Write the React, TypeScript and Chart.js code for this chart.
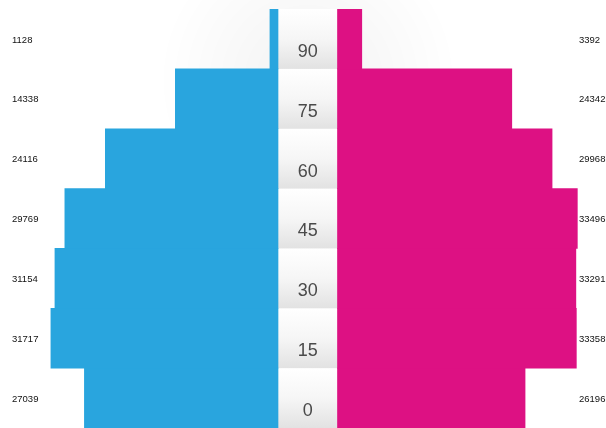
import React, { useEffect, useRef } from "react";
import { Chart, registerables } from "chart.js";

Chart.register(...registerables);

const ages = ["0", "15", "30", "45", "60", "75", "90"];
const male = [27039, 31717, 31154, 29769, 24116, 14338, 1128];
const female = [26196, 33358, 33291, 33496, 29968, 24342, 3392];

const W = 606;
const H = 428;
const PX_PER_UNIT = 0.00716;
const LEFT_BASE = 278;
const RIGHT_BASE = 337.5;

const centerColumn = {
  id: "centerColumn",
  beforeDatasetsDraw(chart: any) {
    const { ctx, chartArea, scales } = chart;
    const y = scales.y;
    const h = chartArea.height / ages.length;
    ctx.save();
    // soft glow near top
    const rg = ctx.createRadialGradient(308, 80, 0, 308, 80, 150);
    rg.addColorStop(0, "rgba(0,0,0,0.05)");
    rg.addColorStop(1, "rgba(0,0,0,0)");
    ctx.fillStyle = rg;
    ctx.fillRect(150, 0, 320, 230);
    ages.forEach((a, i) => {
      const cy = y.getPixelForValue(i);
      const top = cy - h / 2;
      const g = ctx.createLinearGradient(0, top, 0, top + h);
      g.addColorStop(0, "#ffffff");
      g.addColorStop(0.5, "#f6f6f6");
      g.addColorStop(1, "#e2e2e2");
      ctx.fillStyle = g;
      ctx.fillRect(LEFT_BASE, top, RIGHT_BASE - LEFT_BASE, h);
      ctx.fillStyle = "#4a4a4a";
      ctx.font = '18px "Liberation Sans", Arial, sans-serif';
      ctx.textAlign = "center";
      ctx.textBaseline = "middle";
      ctx.fillText(a, (LEFT_BASE + RIGHT_BASE) / 2, cy + 13);
    });
    ctx.restore();
  },
  afterDatasetsDraw(chart: any) {
    const { ctx, scales } = chart;
    const y = scales.y;
    ctx.save();
    ctx.fillStyle = "#111";
    ctx.font = '9.5px "Liberation Sans", Arial, sans-serif';
    ctx.textBaseline = "middle";
    ages.forEach((_, i) => {
      const cy = y.getPixelForValue(i) + 1;
      ctx.textAlign = "left";
      ctx.fillText(String(male[i]), 12, cy);
      ctx.fillText(String(female[i]), 579, cy);
    });
    ctx.restore();
  },
};

export default function App() {
  const ref = useRef<HTMLCanvasElement>(null);
  useEffect(() => {
    if (!ref.current) return;
    const chart = new Chart(ref.current, {
      type: "bar",
      data: {
        labels: ages,
        datasets: [
          {
            label: "Male",
            data: male,
            xAxisID: "xL",
            backgroundColor: "#29A5DE",
            borderWidth: 0,
            barPercentage: 1,
            categoryPercentage: 1,
            grouped: false,
          },
          {
            label: "Female",
            data: female,
            xAxisID: "xR",
            backgroundColor: "#DD1183",
            borderWidth: 0,
            barPercentage: 1,
            categoryPercentage: 1,
            grouped: false,
          },
        ],
      },
      options: {
        indexAxis: "y",
        responsive: false,
        animation: false,
        layout: { padding: { top: 9, left: 0, right: 0, bottom: 0 } },
        plugins: { legend: { display: false }, tooltip: { enabled: false } },
        scales: {
          y: { display: false, reverse: true, grid: { display: false } },
          xL: {
            type: "linear",
            display: false,
            reverse: true,
            min: -(W - LEFT_BASE) / PX_PER_UNIT,
            max: LEFT_BASE / PX_PER_UNIT,
          },
          xR: {
            type: "linear",
            display: false,
            min: -RIGHT_BASE / PX_PER_UNIT,
            max: (W - RIGHT_BASE) / PX_PER_UNIT,
          },
        },
      },
      plugins: [centerColumn],
    });
    return () => chart.destroy();
  }, []);
  return (
    <div style={{ position: "absolute", left: 0, top: 0, width: W, height: H, background: "#fff" }}>
      <canvas ref={ref} width={W} height={H} style={{ display: "block", width: W, height: H }} />
    </div>
  );
}
